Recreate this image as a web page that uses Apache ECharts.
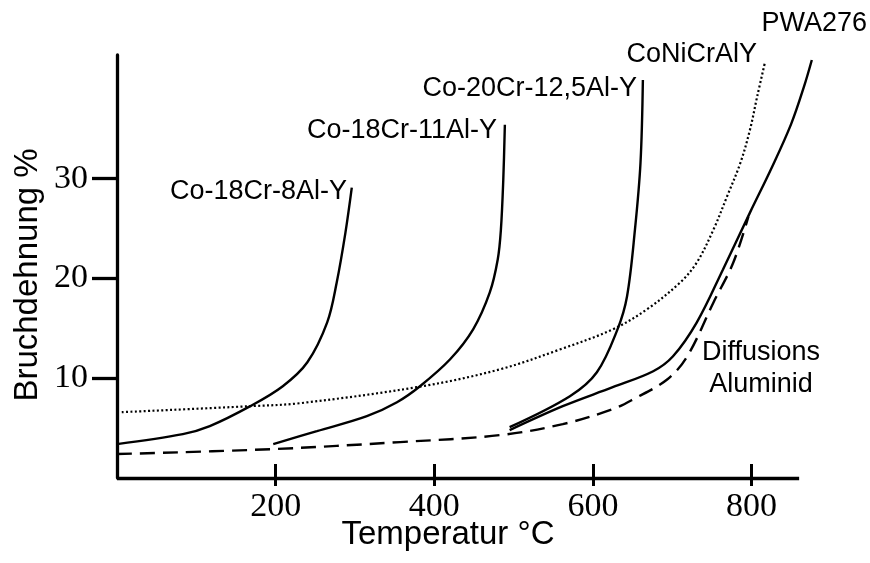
<!DOCTYPE html>
<html>
<head>
<meta charset="utf-8">
<script src="https://cdn.jsdelivr.net/npm/echarts@6/dist/echarts.min.js"></script>
<style>
html,body{margin:0;padding:0;background:#fff;}
#c{width:870px;height:563px;}
</style>
</head>
<body>
<div id="c"></div>
<script>
// ---- data (temperature °C, elongation %) ----
const xTicks = [200, 400, 600, 800];
const yTicks = [10, 20, 30];
const xAxisEnd = 860;   // where the drawn x-axis line stops

const co18cr8T = [0, 83, 117, 168, 209, 240, 265, 277, 288, 296];
const co18cr8E = [3.4, 4.4, 5.2, 7.2, 9.2, 11.6, 15.6, 19.6, 24.6, 29.1];

const co18cr11T = [197, 252, 315, 353, 382, 420, 449, 470, 480, 484, 487, 489];
const co18cr11E = [3.4, 4.7, 6.2, 7.6, 9.2, 11.9, 14.9, 18.6, 21.9, 24.9, 29.9, 35.4];

const co20cr12T = [495, 571, 605, 631, 643, 653, 660, 663];
const co20cr12E = [5.1, 8.2, 10.6, 14.9, 18.2, 24.9, 31.6, 39.9];

const pwaT = [495, 562, 625, 676, 701, 731, 764, 798, 826, 850, 866, 876];
const pwaE = [4.8, 7.2, 9.1, 10.7, 12.2, 15.6, 20.9, 26.6, 31.2, 35.5, 39.2, 41.9];

const diffT = [0, 197, 357, 483, 562, 625, 651, 694, 719, 752, 777, 796];
const diffE = [2.4, 2.9, 3.6, 4.3, 5.4, 6.9, 7.9, 9.9, 12.2, 17.6, 21.6, 26.2];

const conicrT = [6, 168, 231, 385, 483, 559, 625, 668, 710, 731, 752, 769, 786, 798, 807, 817];
const conicrE = [6.6, 7.2, 7.5, 9.2, 10.9, 12.9, 14.9, 16.9, 19.6, 21.6, 24.9, 28.2, 31.6, 34.9, 38.2, 41.7];

const labels = {
  co18cr8: 'Co-18Cr-8Al-Y',
  co18cr11: 'Co-18Cr-11Al-Y',
  co20cr12: 'Co-20Cr-12,5Al-Y',
  conicr: 'CoNiCrAlY',
  pwa: 'PWA276',
  diff1: 'Diffusions',
  diff2: 'Aluminid',
  xName: 'Temperatur °C',
  yName: 'Bruchdehnung %'
};

function pairs(xs, ys) { return xs.map((x, i) => [x, ys[i]]); }

const serif = 'Liberation Serif';
const lblFont = '27px "Liberation Sans"';

function line(name, xs, ys, type) {
  return {
    name: name, type: 'line', xAxisIndex: 0, yAxisIndex: 0,
    data: pairs(xs, ys), showSymbol: false, smooth: 0.35, clip: false,
    lineStyle: { color: '#000', width: type === 'dotted' ? 2.2 : 2.4,
      type: type === 'dashed' ? [15, 8] : (type === 'dotted' ? [2, 2.4] : 'solid') },
    silent: true, animation: false
  };
}

const series = [
  line(labels.co18cr8, co18cr8T, co18cr8E, 'solid'),
  line(labels.co18cr11, co18cr11T, co18cr11E, 'solid'),
  line(labels.co20cr12, co20cr12T, co20cr12E, 'solid'),
  line(labels.pwa, pwaT, pwaE, 'solid'),
  line(labels.diff1 + ' ' + labels.diff2, diffT, diffE, 'dashed'),
  line(labels.conicr, conicrT, conicrE, 'dotted')
];
// x-axis line drawn through the scale, ending at xAxisEnd
series[0].markLine = {
  silent: true, symbol: ['none', 'none'], label: { show: false }, animation: false,
  lineStyle: { color: '#000', width: 3.3, type: 'solid' },
  data: [[{ coord: [0, 0] }, { coord: [xAxisEnd, 0] }]]
};

const chart = echarts.init(document.getElementById('c'), null, { renderer: 'canvas' });
chart.setOption({
  backgroundColor: '#fff',
  animation: false,
  grid: { left: 117, right: 55, top: 55, bottom: 85, containLabel: false },
  xAxis: [{
    type: 'value', min: 0, max: 880, interval: 200, position: 'bottom',
    axisLine: { show: false },
    axisTick: { show: true, inside: true, length: 14, lineStyle: { color: '#000', width: 3 }, customValues: xTicks },
    axisLabel: { show: true, margin: 12, fontFamily: serif, fontSize: 34, color: '#000', customValues: xTicks },
    splitLine: { show: false }
  }, {
    type: 'value', min: 0, max: 880, interval: 200, position: 'bottom', offset: 0,
    axisLine: { show: false },
    axisTick: { show: true, inside: false, length: 8, lineStyle: { color: '#000', width: 3 }, customValues: xTicks },
    axisLabel: { show: false },
    splitLine: { show: false }
  }],
  yAxis: [{
    type: 'value', min: 0, max: 42.4, interval: 10,
    axisLine: { show: true, lineStyle: { color: '#000', width: 3.3 } },
    axisTick: { show: true, inside: false, length: 25, lineStyle: { color: '#000', width: 3.3 }, customValues: yTicks },
    axisLabel: { show: true, margin: 29, fontFamily: serif, fontSize: 34, color: '#000', customValues: yTicks },
    splitLine: { show: false }
  }],
  series: series,
  graphic: [
    { type: 'text', x: 28, y: 275, rotation: Math.PI / 2,
      style: { text: labels.yName, font: '33px "Liberation Sans"', fill: '#000', align: 'center', verticalAlign: 'middle' } },
    { type: 'text', x: 448, y: 535,
      style: { text: labels.xName, font: '33px "Liberation Sans"', fill: '#000', align: 'center', verticalAlign: 'middle' } },
    { type: 'text', x: 347, y: 192, style: { text: labels.co18cr8, font: lblFont, fill: '#000', align: 'right', verticalAlign: 'middle' } },
    { type: 'text', x: 497, y: 131, style: { text: labels.co18cr11, font: lblFont, fill: '#000', align: 'right', verticalAlign: 'middle' } },
    { type: 'text', x: 637, y: 89, style: { text: labels.co20cr12, font: lblFont, fill: '#000', align: 'right', verticalAlign: 'middle' } },
    { type: 'text', x: 757, y: 55, style: { text: labels.conicr, font: lblFont, fill: '#000', align: 'right', verticalAlign: 'middle' } },
    { type: 'text', x: 867, y: 24, style: { text: labels.pwa, font: lblFont, fill: '#000', align: 'right', verticalAlign: 'middle' } },
    { type: 'text', x: 761, y: 353, style: { text: labels.diff1, font: lblFont, fill: '#000', align: 'center', verticalAlign: 'middle' } },
    { type: 'text', x: 761, y: 385, style: { text: labels.diff2, font: lblFont, fill: '#000', align: 'center', verticalAlign: 'middle' } }
  ]
});
</script>
</body>
</html>
